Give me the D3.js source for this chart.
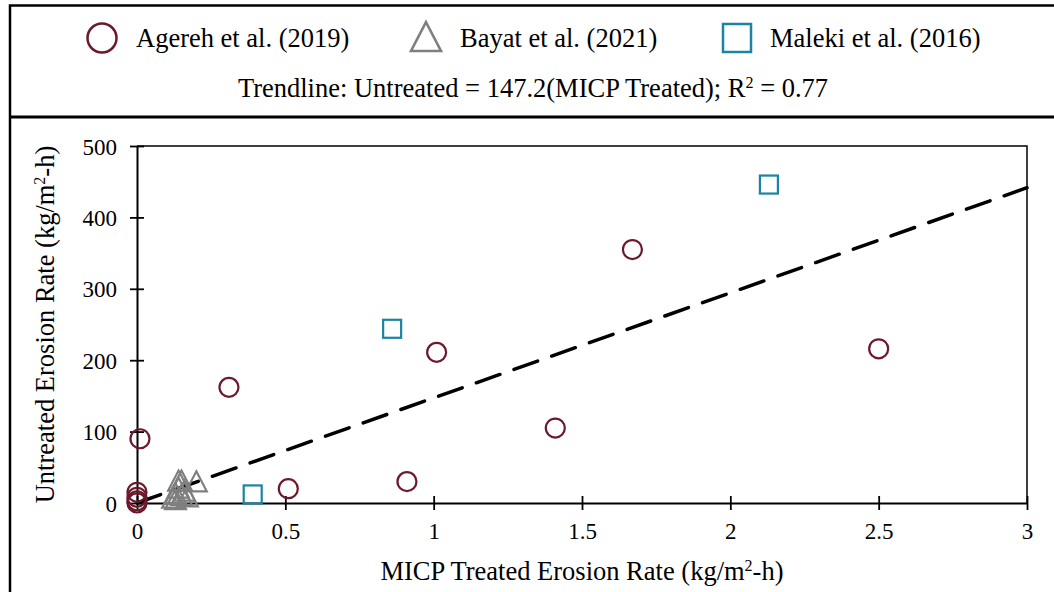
<!DOCTYPE html>
<html>
<head>
<meta charset="utf-8">
<script src="https://cdn.jsdelivr.net/npm/d3@7"></script>
<style>
  html, body { margin: 0; padding: 0; background: #fff; }
  svg { display: block; }
  text { font-family: "Liberation Serif", "Times New Roman", serif; fill: #000; }
</style>
</head>
<body>
<svg id="chart" width="1054" height="592"></svg>
<script>
// Erosion rates (kg/m²-h): MICP treated (x) vs untreated (y)
const seriesNames = ["Agereh et al. (2019)", "Bayat et al. (2021)", "Maleki et al. (2016)"];

const agerehTreated   = [0, 0, 0, 0, 0.01, 0.31, 0.51, 0.91, 1.01, 1.41, 1.67, 2.50];
const agerehUntreated = [0, 3, 8, 15, 90, 162, 20, 30, 211, 105, 355, 216];

const bayatTreated    = [0.12, 0.13, 0.14, 0.15, 0.15, 0.16, 0.17, 0.13, 0.20, 0.14];
const bayatUntreated  = [6, 12, 30, 30, 10, 16, 8, 4, 29, 20];

const malekiTreated   = [0.39, 0.86, 2.13];
const malekiUntreated = [12, 244, 446];

const trendSlope = 147.2;
const trendR2 = 0.77;

const xTicks = [0, 0.5, 1, 1.5, 2, 2.5, 3];
const yTicks = [0, 100, 200, 300, 400, 500];

const colors = { agereh: "#6b1a2b", bayat: "#7f7f7f", maleki: "#1c84a2" };

const svg = d3.select("#chart");
const W = 1054, H = 592;
const tickFont = "23px", titleFont = "26.5px", supFont = "16px";

// Outer frames: legend box on top, chart box below
svg.append("path")
  .attr("d", `M10,${H} L10,5.5 L${W + 2},5.5`)
  .attr("fill", "none").attr("stroke", "#000").attr("stroke-width", 2.5);
svg.append("line")
  .attr("x1", 9).attr("x2", W + 2).attr("y1", 117).attr("y2", 117)
  .attr("stroke", "#000").attr("stroke-width", 3);

// Plot area
const margin = { left: 137, right: 1027, top: 146, bottom: 503 };
const x = d3.scaleLinear().domain([0, 3]).range([margin.left, margin.right]);
const y = d3.scaleLinear().domain([0, 500]).range([margin.bottom, margin.top]);

// plot frame (top and right edges)
svg.append("path")
  .attr("d", `M${x(0)},${y(500)} L${x(3)},${y(500)} L${x(3)},${y(0)}`)
  .attr("fill", "none").attr("stroke", "#000").attr("stroke-width", 1.5);

// axes with crossing tick marks
const xAxis = svg.append("g").attr("transform", `translate(0,${y(0)})`)
  .call(d3.axisBottom(x).tickValues(xTicks).tickSize(0).tickFormat(d3.format("")));
xAxis.select(".domain").attr("stroke-width", 2);
xAxis.selectAll(".tick").append("line")
  .attr("y1", -7).attr("y2", 7).attr("stroke", "#000").attr("stroke-width", 1.8);
xAxis.selectAll(".tick text")
  .attr("y", 20).attr("dy", "0.71em").style("font-size", tickFont)
  .style("font-family", "Liberation Serif, serif");

const yAxis = svg.append("g").attr("transform", `translate(${x(0)},0)`)
  .call(d3.axisLeft(y).tickValues(yTicks).tickSize(0));
yAxis.select(".domain").attr("stroke-width", 2);
yAxis.selectAll(".tick").append("line")
  .attr("x1", -7).attr("x2", 7).attr("stroke", "#000").attr("stroke-width", 1.8);
yAxis.selectAll(".tick text")
  .attr("x", -20).attr("dy", "0.35em").style("font-size", tickFont)
  .style("font-family", "Liberation Serif, serif");
svg.selectAll(".domain").attr("stroke", "#000");

// trendline through the origin
const trendX = [0, 3];
svg.append("path")
  .datum(trendX)
  .attr("d", d3.line().x(d => x(d)).y(d => y(trendSlope * d)))
  .attr("fill", "none").attr("stroke", "#000").attr("stroke-width", 3.5)
  .attr("stroke-dasharray", "25,15").attr("stroke-linecap", "round");

// markers
const zip = (a, b) => a.map((v, i) => [v, b[i]]);
const triPath = s => `M0,${-s * 0.55} L${s * 0.52},${s * 0.45} L${-s * 0.52},${s * 0.45} Z`;

svg.append("g").selectAll("circle")
  .data(zip(agerehTreated, agerehUntreated)).join("circle")
  .attr("cx", d => x(d[0])).attr("cy", d => y(d[1])).attr("r", 9.5)
  .attr("fill", "none").attr("stroke", colors.agereh).attr("stroke-width", 2.2);

svg.append("g").selectAll("path")
  .data(zip(bayatTreated, bayatUntreated)).join("path")
  .attr("transform", d => `translate(${x(d[0])},${y(d[1])})`)
  .attr("d", triPath(20))
  .attr("fill", "none").attr("stroke", colors.bayat).attr("stroke-width", 2.2);

svg.append("g").selectAll("rect")
  .data(zip(malekiTreated, malekiUntreated)).join("rect")
  .attr("x", d => x(d[0]) - 9).attr("y", d => y(d[1]) - 9)
  .attr("width", 18).attr("height", 18)
  .attr("fill", "none").attr("stroke", colors.maleki).attr("stroke-width", 2.2);

// text with a superscript part; baseline shifts given in px so they cancel
const sup = (sel, base, supText, rest) => {
  sel.append("tspan").text(base);
  sel.append("tspan").text(supText).attr("dy", -9).style("font-size", supFont);
  sel.append("tspan").text(rest).attr("dy", 9);
};

// axis titles
const xt = svg.append("text").attr("x", 582).attr("y", 580)
  .attr("text-anchor", "middle").style("font-size", titleFont);
sup(xt, "MICP Treated Erosion Rate (kg/m", "2", "-h)");

const yt = svg.append("text")
  .attr("transform", `translate(54,${(y(0) + y(500)) / 2}) rotate(-90)`)
  .attr("text-anchor", "middle").style("font-size", titleFont);
sup(yt, "Untreated Erosion Rate (kg/m", "2", "-h)");

// legend
const lg = svg.append("g");
const legendY = 38;
const legendItems = [
  { name: seriesNames[0], mx: 102, tx: 136, shape: "circle", color: colors.agereh },
  { name: seriesNames[1], mx: 426, tx: 460, shape: "triangle", color: colors.bayat },
  { name: seriesNames[2], mx: 737, tx: 770, shape: "square", color: colors.maleki }
];
legendItems.forEach(it => {
  if (it.shape === "circle") {
    lg.append("circle").attr("cx", it.mx).attr("cy", legendY).attr("r", 14.5)
      .attr("fill", "none").attr("stroke", it.color).attr("stroke-width", 2.5);
  } else if (it.shape === "triangle") {
    lg.append("path").attr("transform", `translate(${it.mx},${legendY})`)
      .attr("d", triPath(29))
      .attr("fill", "none").attr("stroke", it.color).attr("stroke-width", 2.5);
  } else {
    lg.append("rect").attr("x", it.mx - 14).attr("y", legendY - 14)
      .attr("width", 28).attr("height", 28)
      .attr("fill", "none").attr("stroke", it.color).attr("stroke-width", 2.5);
  }
  lg.append("text").attr("x", it.tx).attr("y", legendY + 9)
    .style("font-size", titleFont).text(it.name);
});

const tl = svg.append("text").attr("x", 533).attr("y", 97)
  .attr("text-anchor", "middle").style("font-size", titleFont);
sup(tl, `Trendline: Untreated = ${trendSlope}(MICP Treated); R`, "2", ` = ${trendR2}`);
</script>
</body>
</html>
